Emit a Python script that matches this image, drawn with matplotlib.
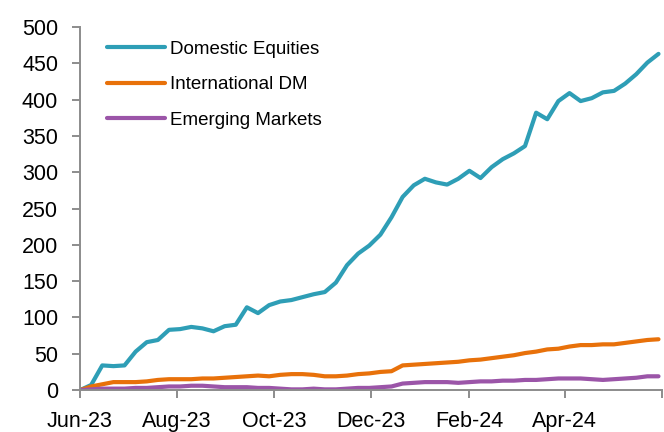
import numpy as np
import pandas as pd
import matplotlib
matplotlib.use("Agg")
import matplotlib.pyplot as plt

plt.rcParams['font.family'] = ['Liberation Sans', 'DejaVu Sans']

# weekly observations, Jun-23 .. end of May-24
dates = pd.date_range("2023-06-01", periods=53, freq="7D")

domestic = [0, 7, 34, 33, 34, 53, 66, 69, 83, 84, 87, 85, 81, 88, 90, 114, 106, 117,
            122, 124, 128, 132, 135, 148, 172, 188, 199, 214, 238, 266, 282, 291, 286,
            283, 291, 302, 292, 307, 318, 326, 336, 382, 373, 398, 409, 398, 402, 410,
            412, 422, 435, 451, 463]
intl_dm = [0, 5, 8, 11, 11, 11, 12, 14, 15, 15, 15, 16, 16, 17, 18, 19, 20, 19, 21,
           22, 22, 21, 19, 19, 20, 22, 23, 25, 26, 34, 35, 36, 37, 38, 39, 41, 42, 44,
           46, 48, 51, 53, 56, 57, 60, 62, 62, 63, 63, 65, 67, 69, 70]
emerging = [0, 1, 2, 2, 2, 3, 3, 4, 5, 5, 6, 6, 5, 4, 4, 4, 3, 3, 2, 1, 1, 2, 1, 1,
            2, 3, 3, 4, 5, 9, 10, 11, 11, 11, 10, 11, 12, 12, 13, 13, 14, 14, 15, 16,
            16, 16, 15, 14, 15, 16, 17, 19, 19]

series_names = ["Domestic Equities", "International DM", "Emerging Markets"]
colors = ["#2E9EB6", "#E8710A", "#9B55A8"]

tick_dates = pd.date_range("2023-06-01", "2024-06-01", freq="2MS")
tick_labels = ["Jun-23", "Aug-23", "Oct-23", "Dec-23", "Feb-24", "Apr-24", ""]

fig = plt.figure(figsize=(6.64, 4.32), dpi=100)
ax = fig.add_axes([0.1205, 0.097, 0.876, 0.8405])

for vals, name, c in zip([domestic, intl_dm, emerging], series_names, colors):
    ax.plot(dates, vals, color=c, lw=3.0, label=name, solid_capstyle="round",
            solid_joinstyle="round")

ax.set_xlim(pd.Timestamp("2023-06-01"), pd.Timestamp("2024-06-01"))
ax.set_ylim(0, 500)
ax.set_yticks(np.arange(0, 501, 50))
ax.set_xticks(tick_dates)
ax.set_xticklabels(tick_labels)

for s in ["top", "right"]:
    ax.spines[s].set_visible(False)
for s in ["left", "bottom"]:
    ax.spines[s].set_color("#8c8c8c")
    ax.spines[s].set_linewidth(1.4)
ax.tick_params(axis="both", colors="#8c8c8c", length=5.8, width=1.4, direction="out",
               labelcolor="black", labelsize=15.5)
ax.tick_params(axis="x", pad=9)
ax.tick_params(axis="y", pad=10)

ax.legend(loc="upper left", bbox_to_anchor=(0.046, 0.962), frameon=False,
          fontsize=13.5, handlelength=3.1, handletextpad=0.25, labelspacing=0.97,
          borderpad=0, borderaxespad=0)

fig.savefig("out.png", dpi=100)
